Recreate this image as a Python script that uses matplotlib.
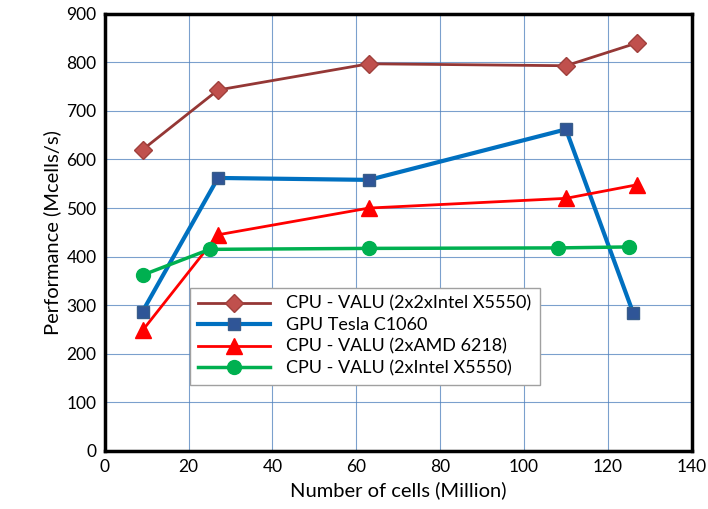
import matplotlib

matplotlib.use("Agg")
import matplotlib.pyplot as plt

plt.rcParams["font.family"] = ["Lato", "DejaVu Sans"]

# Number of cells (Million) and performance (Mcells/s)
CPU4_X = [9, 27, 63, 110, 127]
CPU4_Y = [620, 743, 797, 793, 840]
GPU_X = [9, 27, 63, 110, 126]
GPU_Y = [287, 562, 558, 662, 285]
AMD_X = [9, 27, 63, 110, 127]
AMD_Y = [248, 445, 500, 520, 548]
CPU2_X = [9, 25, 63, 108, 125]
CPU2_Y = [362, 415, 417, 418, 420]

LABELS = [
    "CPU - VALU (2x2xIntel X5550)",
    "GPU Tesla C1060",
    "CPU - VALU (2xAMD 6218)",
    "CPU - VALU (2xIntel X5550)",
]

fig = plt.figure(figsize=(7.08, 5.09), dpi=100)
ax = fig.add_axes([0.148, 0.114, 0.829, 0.859])

ax.plot(CPU4_X, CPU4_Y, color="#953735", lw=2, marker="D", ms=9,
        mfc="#C0504D", mec="#A0403C", label=LABELS[0], zorder=3)
ax.plot(GPU_X, GPU_Y, color="#0070C0", lw=3, marker="s", ms=8,
        mfc="#2F5597", mec="#385D8A", label=LABELS[1], zorder=3)
ax.plot(AMD_X, AMD_Y, color="#FF0000", lw=2, marker="^", ms=11,
        mfc="#FF0000", mec="#FF0000", label=LABELS[2], zorder=3)
ax.plot(CPU2_X, CPU2_Y, color="#00B050", lw=2.5, marker="o", ms=10,
        mfc="#00B050", mec="#00B050", label=LABELS[3], zorder=3)

ax.set_xlim(0, 140)
ax.set_ylim(0, 900)
ax.set_xticks(range(0, 141, 20))
ax.set_yticks(range(0, 901, 100))
ax.tick_params(length=0, labelsize=12.5, pad=6)
ax.grid(True, color="#4F81BD", lw=0.8, alpha=0.75)
ax.set_axisbelow(True)
for s in ax.spines.values():
    s.set_linewidth(2.5)
    s.set_color("black")

ax.set_xlabel("Number of cells (Million)", fontsize=14.5)
ax.set_ylabel("Performance (Mcells/s)", fontsize=14.5)

leg = ax.legend(loc="lower left", bbox_to_anchor=(0.145, 0.152), fontsize=13,
                fancybox=False, framealpha=1, edgecolor="#A0A0A0",
                handlelength=4.0, handletextpad=0.9, borderpad=0.45,
                labelspacing=0.3, borderaxespad=0)
leg.get_frame().set_linewidth(1)

fig.savefig("out.png", dpi=100)
